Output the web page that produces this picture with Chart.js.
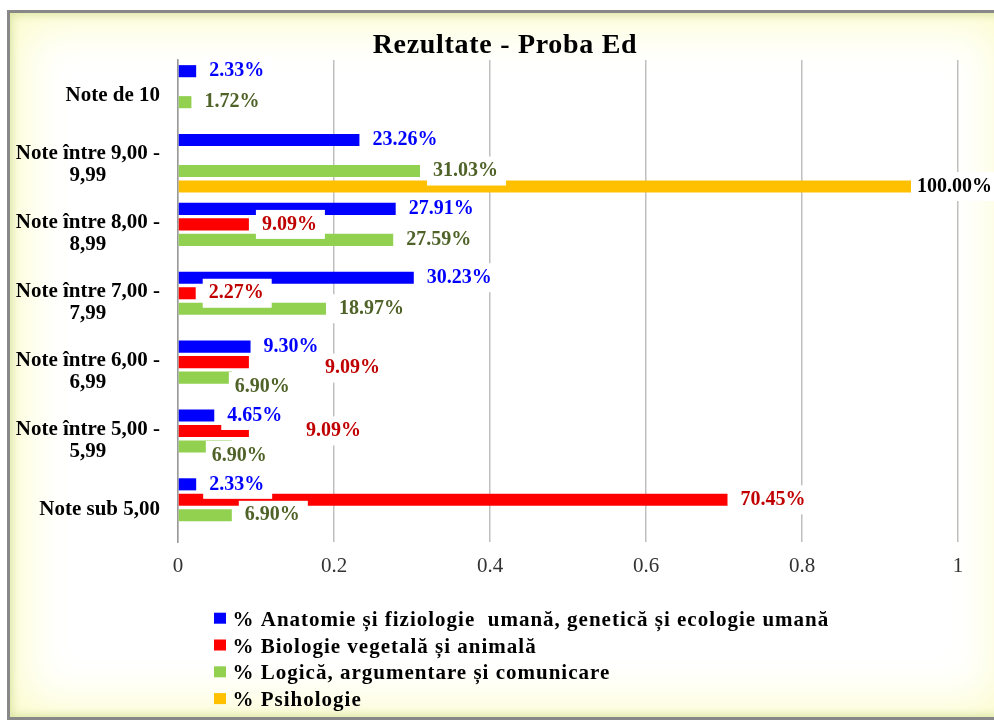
<!DOCTYPE html>
<html>
<head>
<meta charset="utf-8">
<script src="https://cdn.jsdelivr.net/npm/chart.js@4.4.1/dist/chart.umd.min.js"></script>
<style>
  html, body { margin: 0; padding: 0; background: #fff; overflow: hidden; }
  .frame {
    position: absolute; left: 7px; top: 10px; width: 1000px; height: 704px;
    border: 3px solid #888;
    background: #fff;
    box-shadow: inset 0 0 8px 2px #dbe4a4, inset 0 0 46px 14px #fcfccd;
  }
  #wrap { position: absolute; left: 0; top: 0; width: 994px; height: 720px; }
</style>
</head>
<body>
<div class="frame"></div>
<div id="wrap"><canvas id="chart" width="994" height="720"></canvas></div>
<script>
// categories (top to bottom) and series values (fractions)
const categories = [
  ['Note de 10'],
  ['Note între 9,00 -', '9,99'],
  ['Note între 8,00 -', '8,99'],
  ['Note între 7,00 -', '7,99'],
  ['Note între 6,00 -', '6,99'],
  ['Note între 5,00 -', '5,99'],
  ['Note sub 5,00']
];
const seriesNames = [
  '% Anatomie și fiziologie  umană, genetică și ecologie umană',
  '% Biologie vegetală și animală',
  '% Logică, argumentare și comunicare',
  '% Psihologie'
];
const anatomie   = [0.0233, 0.2326, 0.2791, 0.3023, 0.0930, 0.0465, 0.0233];
const biologie   = [null, null, 0.0909, 0.0227, 0.0909, 0.0909, 0.7045];
const logica     = [0.0172, 0.3103, 0.2759, 0.1897, 0.0690, 0.0690, 0.0690];
const psihologie = [null, 1.0, null, null, null, null, null];
const xTicks = [0, 0.2, 0.4, 0.6, 0.8, 1];

const barColors = ['#0000ff', '#ff0000', '#92d050', '#ffc000'];
const labelColors = ['#0000ff', '#c00000', '#4f6228', '#000000'];
const SERIF = '"Liberation Serif", "Times New Roman", serif';

// a few labels were moved by hand in the original
const labelNudge = { '4-1': [63, 6], '4-2': [-10, 9], '5-1': [44, 0], '5-2': [-33, 9] };

const decorPlugin = {
  id: 'decor',
  afterDatasetsDraw(chart) {
    const ctx = chart.ctx;
    ctx.save();
    ctx.font = 'bold 20px ' + SERIF;
    ctx.textBaseline = 'middle';
    chart.data.datasets.forEach((ds, di) => {
      const meta = chart.getDatasetMeta(di);
      meta.data.forEach((el, i) => {
        const v = ds.data[i];
        if (v === null || v === undefined) return;
        const text = (v * 100).toFixed(2) + '%';
        const w = ctx.measureText(text).width;
        let x = el.x + 13, y = el.y;
        const n = labelNudge[i + '-' + di];
        if (n) { x += n[0]; y += n[1]; }
        if (x + w > chart.width - 2) x = chart.width - 2 - w;
        ctx.fillStyle = '#fff';
        ctx.fillRect(x - 6, y - 14.5, w + 14, 29);
        ctx.fillStyle = labelColors[di];
        ctx.textAlign = 'left';
        ctx.fillText(text, x, y);
      });
    });
    ctx.restore();
  },
  afterDraw(chart) {
    const ctx = chart.ctx;
    const yScale = chart.scales.y;
    ctx.save();
    // title
    ctx.fillStyle = '#000';
    ctx.font = 'bold 28px ' + SERIF;
    ctx.letterSpacing = '0.7px';
    ctx.textAlign = 'center';
    ctx.textBaseline = 'alphabetic';
    ctx.fillText('Rezultate - Proba Ed', 505, 53);
    ctx.letterSpacing = '0px';

    // category labels
    ctx.font = 'bold 21px ' + SERIF;
    categories.forEach((lines, i) => {
      const c = yScale.getPixelForValue(i);
      const right = 160;
      if (lines.length === 1) {
        ctx.textAlign = 'right';
        ctx.fillText(lines[0], right, c + 7);
      } else {
        const w0 = ctx.measureText(lines[0]).width;
        ctx.textAlign = 'right';
        ctx.fillText(lines[0], right, c - 4.2);
        ctx.textAlign = 'center';
        ctx.fillText(lines[1], right - w0 / 2, c + 18.2);
      }
    });

    // legend
    ctx.textAlign = 'left';
    ctx.font = 'bold 21px ' + SERIF;
    ctx.letterSpacing = '1px';
    seriesNames.forEach((name, i) => {
      const base = 625.7 + 26.8 * i;
      ctx.fillStyle = barColors[i];
      ctx.fillRect(214, base - 13, 12, 11);
      ctx.fillStyle = '#000';
      ctx.fillText(name, 232.5, base);
    });
    ctx.restore();
  }
};

const seriesData = [anatomie, biologie, logica, psihologie];

new Chart(document.getElementById('chart'), {
  type: 'bar',
  data: {
    labels: categories,
    datasets: seriesData.map((d, i) => ({
      label: seriesNames[i],
      data: d,
      backgroundColor: barColors[i],
      borderWidth: 0,
      categoryPercentage: 0.9,
      barPercentage: 0.78
    }))
  },
  options: {
    indexAxis: 'y',
    responsive: false,
    animation: false,
    layout: { padding: { left: 178, right: 36, top: 60, bottom: 118 } },
    scales: {
      x: {
        min: 0, max: 1,
        afterBuildTicks: (s) => { s.ticks = xTicks.map(v => ({ value: v })); },
        afterFit: (s) => { s.height = 60; },
        grid: { color: '#bfbfbf', lineWidth: 1.5, drawTicks: false },
        border: { display: false },
        ticks: {
          padding: 12,
          color: '#333',
          font: { family: SERIF, size: 21 },
          callback: (v) => String(v)
        }
      },
      y: {
        afterFit: (s) => { s.width = 0; },
        grid: { display: false },
        border: { display: true, color: '#999', width: 1.5 },
        ticks: { display: false }
      }
    },
    plugins: { legend: { display: false }, tooltip: { enabled: false } }
  },
  plugins: [decorPlugin]
});
</script>
</body>
</html>
